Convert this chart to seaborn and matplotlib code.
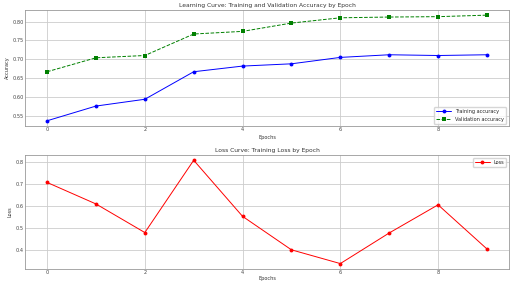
import matplotlib
matplotlib.use("Agg")
import matplotlib.pyplot as plt
import seaborn as sns
import pandas as pd

epochs = list(range(10))
train_acc = [0.537, 0.576, 0.594, 0.667, 0.682, 0.688, 0.705, 0.712, 0.710, 0.712]
val_acc = [0.667, 0.704, 0.710, 0.767, 0.774, 0.796, 0.810, 0.812, 0.813, 0.817]
loss = [0.707, 0.610, 0.481, 0.807, 0.554, 0.403, 0.341, 0.479, 0.606, 0.407]

sns.set_style("whitegrid")
plt.rcParams['font.family'] = ['DejaVu Sans']

fig = plt.figure(figsize=(5.12, 2.82), dpi=100)
ax1 = fig.add_axes([0.049, 0.553, 0.945, 0.412])
ax2 = fig.add_axes([0.049, 0.047, 0.945, 0.403])

df = pd.DataFrame({"epoch": epochs, "train": train_acc, "val": val_acc, "loss": loss})

sns.lineplot(data=df, x="epoch", y="train", ax=ax1, color="blue", marker="o",
             markersize=2.8, markeredgewidth=0, linewidth=0.7, label="Training accuracy")
sns.lineplot(data=df, x="epoch", y="val", ax=ax1, color="green", marker="s",
             markersize=2.8, markeredgewidth=0, linewidth=0.7, linestyle="--", label="Validation accuracy")
sns.lineplot(data=df, x="epoch", y="loss", ax=ax2, color="red", marker="o",
             markersize=2.8, markeredgewidth=0, linewidth=0.7, label="Loss")

ax1.set_title("Learning Curve: Training and Validation Accuracy by Epoch", fontsize=4.3, pad=2, color="#333333")
ax1.set_xlabel("Epochs", fontsize=3.6, labelpad=2, color="#333333")
ax1.set_ylabel("Accuracy", fontsize=3.6, labelpad=2, color="#333333")
ax2.set_title("Loss Curve: Training Loss by Epoch", fontsize=4.3, pad=2, color="#333333")
ax2.set_xlabel("Epochs", fontsize=3.6, labelpad=0.5, color="#333333")
ax2.set_ylabel("Loss", fontsize=3.6, labelpad=2, color="#333333")

for ax in (ax1, ax2):
    ax.tick_params(labelsize=3.6, pad=1, length=0, colors="#444444")
    ax.grid(True, color="#cccccc", linewidth=0.6)
    for s in ax.spines.values():
        s.set_color("#999999")
        s.set_linewidth(0.6)

ax1.legend(loc="lower right", fontsize=3.6, frameon=True, borderpad=0.4, handlelength=3)
ax2.legend(loc="upper right", fontsize=3.6, frameon=True, borderpad=0.4, handlelength=3)

fig.savefig("out.png", dpi=100)
